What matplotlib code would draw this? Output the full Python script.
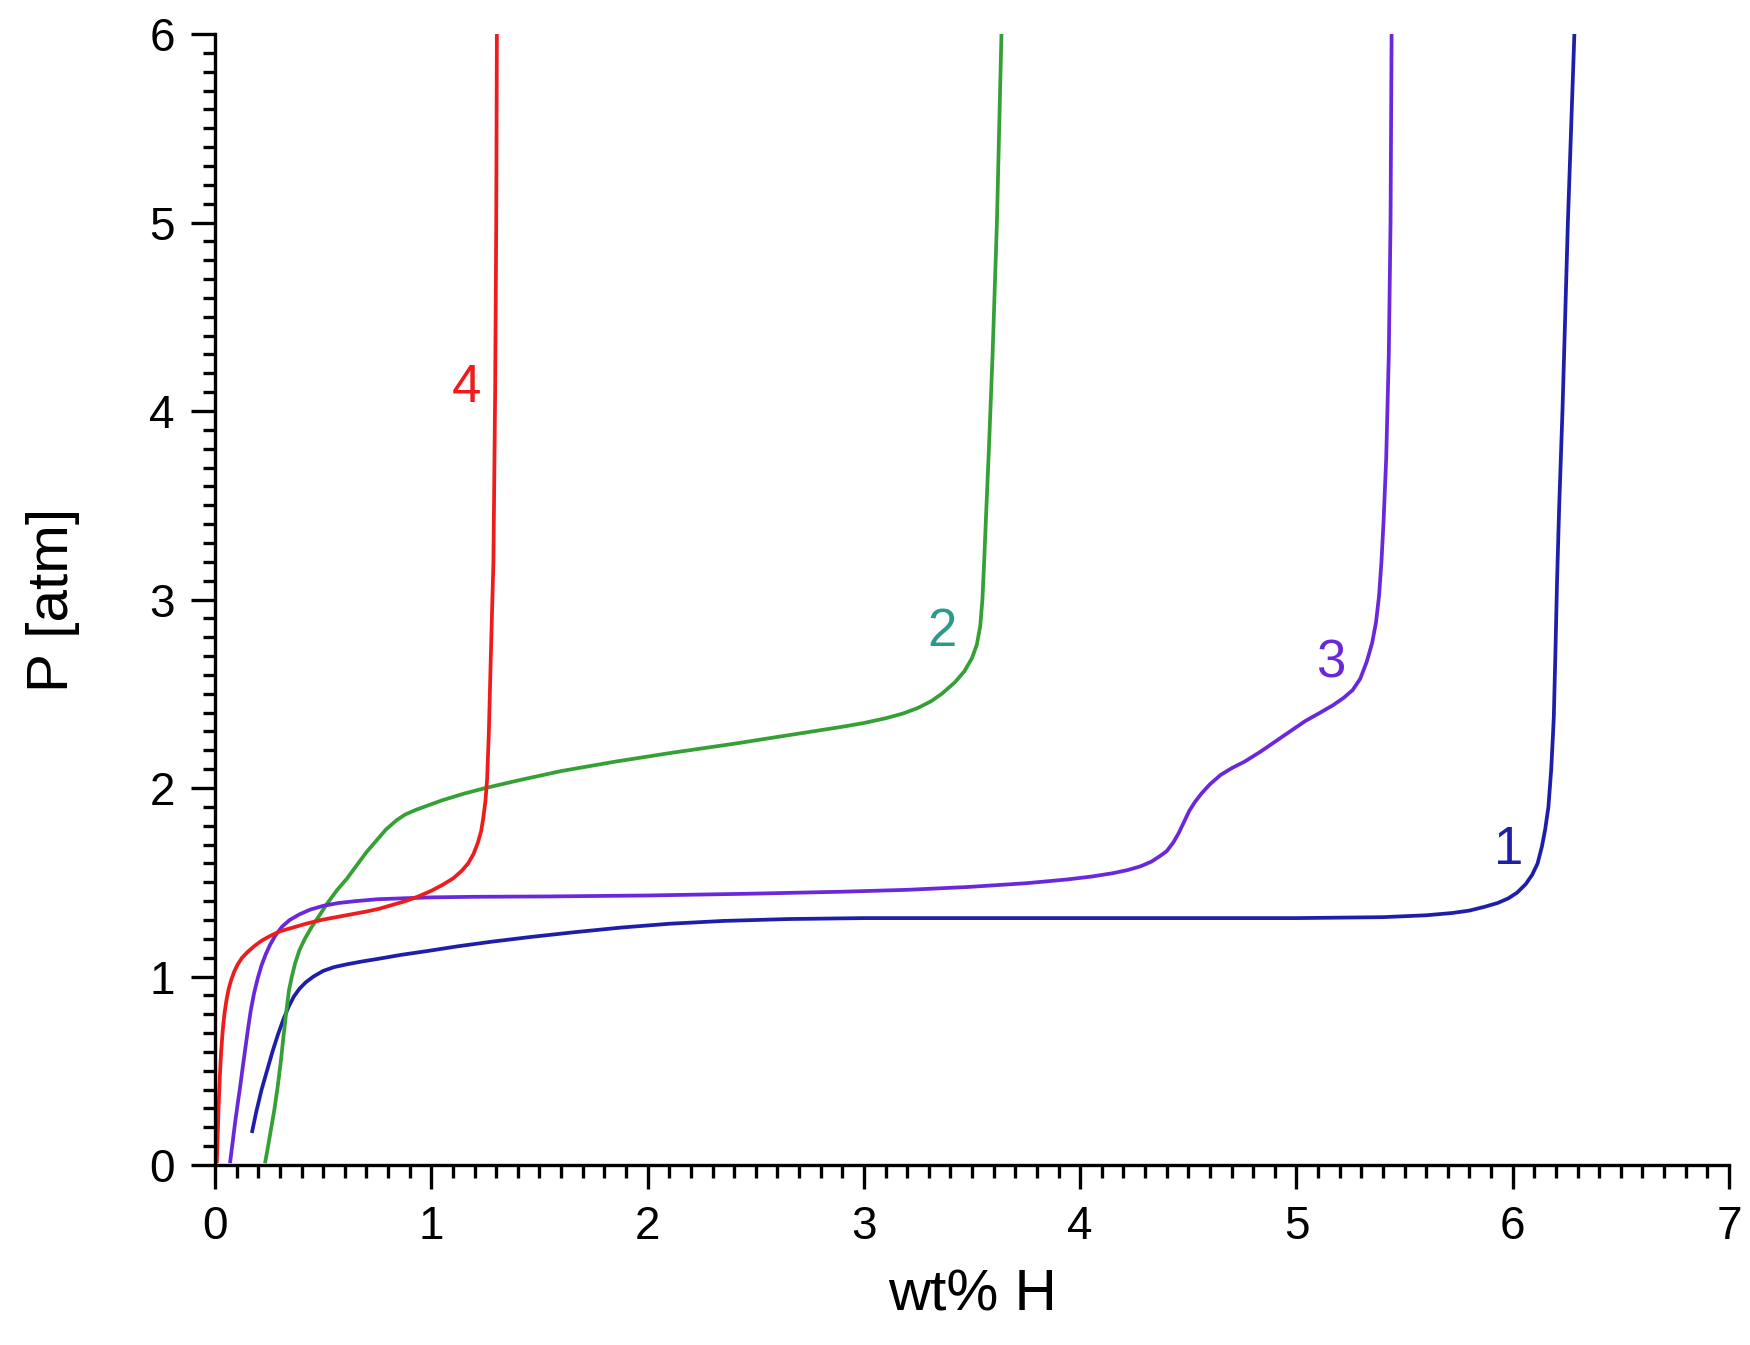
import matplotlib
matplotlib.use("Agg")
import matplotlib.pyplot as plt
from matplotlib.ticker import MultipleLocator

plt.rcParams['font.family'] = ['Liberation Sans', 'DejaVu Sans']

# Curve 1 (blue)
x1 = [0.17, 0.19, 0.215, 0.24, 0.265, 0.29, 0.315, 0.34, 0.365, 0.39, 0.42, 0.455, 0.50, 0.55,
      0.61, 0.68, 0.76, 0.86, 0.98, 1.12, 1.28, 1.46, 1.66, 1.88, 2.10, 2.35, 2.65, 3.0, 3.5,
      4.3, 5.0, 5.4, 5.6, 5.72, 5.80, 5.87, 5.93, 5.98, 6.02, 6.06, 6.09, 6.115, 6.135, 6.15,
      6.165, 6.178, 6.186, 6.19, 6.197, 6.205, 6.215, 6.23, 6.255, 6.285]
y1 = [0.17, 0.28, 0.40, 0.50, 0.60, 0.69, 0.77, 0.84, 0.895, 0.935, 0.97, 1.00, 1.03, 1.05,
      1.065, 1.08, 1.095, 1.115, 1.135, 1.16, 1.185, 1.21, 1.235, 1.26, 1.28, 1.295, 1.305, 1.31,
      1.31, 1.31, 1.31, 1.315, 1.325, 1.337, 1.35, 1.37, 1.39, 1.415, 1.445, 1.49, 1.54, 1.60,
      1.69, 1.78, 1.90, 2.10, 2.28, 2.38, 2.7, 3.1, 3.5, 4.0, 5.0, 6.0]

# Curve 2 (green)
x2 = [0.231, 0.245, 0.26, 0.275, 0.29, 0.305, 0.318, 0.33, 0.342, 0.355, 0.37, 0.39, 0.415,
      0.445, 0.48, 0.52, 0.565, 0.61, 0.655, 0.70, 0.745, 0.79, 0.84, 0.88, 0.93, 0.99, 1.05,
      1.15, 1.25, 1.40, 1.60, 1.85, 2.10, 2.40, 2.65, 2.90, 3.00, 3.10, 3.18, 3.25, 3.31, 3.36,
      3.42, 3.465, 3.50, 3.522, 3.538, 3.548, 3.556, 3.565, 3.578, 3.595, 3.615, 3.636]
y2 = [0.01, 0.10, 0.20, 0.30, 0.42, 0.56, 0.70, 0.82, 0.93, 1.0, 1.07, 1.14, 1.20,
      1.26, 1.32, 1.39, 1.46, 1.52, 1.59, 1.66, 1.72, 1.78, 1.83, 1.86, 1.885, 1.91, 1.935,
      1.97, 2.0, 2.04, 2.09, 2.14, 2.185, 2.235, 2.28, 2.325, 2.345, 2.37, 2.395, 2.425, 2.46,
      2.50, 2.56, 2.62, 2.69, 2.76, 2.86, 3.0, 3.2, 3.45, 3.8, 4.3, 5.0, 6.0]

# Curve 3 (purple)
x3 = [0.069, 0.08, 0.092, 0.104, 0.116, 0.128, 0.14, 0.152, 0.165, 0.18, 0.197, 0.215, 0.235,
      0.255, 0.28, 0.31, 0.345, 0.39, 0.44, 0.50, 0.57, 0.65, 0.75, 0.87, 1.0, 1.2, 1.55, 2.0,
      2.5, 2.9, 3.2, 3.48, 3.75, 3.94, 4.05, 4.15, 4.22, 4.28, 4.33, 4.37, 4.40, 4.43, 4.455,
      4.48, 4.505, 4.53, 4.56, 4.60, 4.65, 4.70, 4.76, 4.83, 4.90, 4.97, 5.04, 5.11, 5.17, 5.22,
      5.26, 5.295, 5.325, 5.35, 5.368, 5.382, 5.393, 5.403, 5.415, 5.427, 5.435, 5.44]
y3 = [0.01, 0.11, 0.22, 0.32, 0.416, 0.52, 0.62, 0.72, 0.82, 0.91, 0.99, 1.06, 1.12,
      1.17, 1.22, 1.265, 1.30, 1.33, 1.355, 1.375, 1.39, 1.40, 1.41, 1.415, 1.42, 1.423, 1.425,
      1.43, 1.44, 1.45, 1.46, 1.475, 1.495, 1.515, 1.53, 1.548, 1.565, 1.585, 1.61, 1.64, 1.665,
      1.71, 1.76, 1.82, 1.88, 1.925, 1.97, 2.02, 2.07, 2.105, 2.14, 2.19, 2.245, 2.30, 2.355,
      2.40, 2.44, 2.48, 2.52, 2.58, 2.67, 2.77, 2.88, 3.02, 3.2, 3.42, 3.75, 4.3, 5.0, 6.0]

# Curve 4 (red)
x4 = [0.008, 0.012, 0.016, 0.022, 0.028, 0.035, 0.043, 0.052, 0.062, 0.074, 0.088, 0.105,
      0.125, 0.15, 0.18, 0.215, 0.254, 0.30, 0.36, 0.42, 0.49, 0.56, 0.63, 0.70, 0.76, 0.82,
      0.88, 0.94, 1.00, 1.05, 1.10, 1.14, 1.17, 1.195, 1.215, 1.23, 1.24, 1.25, 1.258, 1.266,
      1.275, 1.287, 1.295, 1.30, 1.303]
y4 = [0.01, 0.15, 0.30, 0.47, 0.60, 0.71, 0.80, 0.87, 0.93, 0.98, 1.025, 1.065,
      1.10, 1.13, 1.16, 1.19, 1.215, 1.24, 1.26, 1.28, 1.30, 1.315, 1.33, 1.345, 1.36, 1.38,
      1.40, 1.425, 1.455, 1.485, 1.52, 1.56, 1.60, 1.65, 1.71, 1.77, 1.84, 1.93, 2.05, 2.3,
      2.7, 3.2, 4.1, 5.0, 6.0]

curve_labels = ["1", "2", "3", "4"]
label_x = [5.98, 3.36, 5.16, 1.163]
label_y = [1.67, 2.83, 2.66, 4.12]

line_colors = ["#1e1eaa", "#35a035", "#6a28dc", "#ee1c1c"]
label_colors = ["#1e1eaa", "#2a9a8a", "#6a28dc", "#ee1c1c"]

fig = plt.figure(figsize=(17.5, 13.45), dpi=100)
ax = fig.add_axes([0.1229, 0.1338, 0.8651, 0.8409])

for xs, ys, c in zip([x1, x2, x3, x4], [y1, y2, y3, y4], line_colors):
    ax.plot(xs, ys, color=c, lw=2.7, solid_capstyle='butt', solid_joinstyle='round')

for t, lx, ly, c in zip(curve_labels, label_x, label_y, label_colors):
    ax.text(lx, ly, t, color=c, fontsize=38, ha='center', va='center')

ax.set_xlim(0, 7)
ax.set_ylim(0, 6)
ax.xaxis.set_major_locator(MultipleLocator(1))
ax.xaxis.set_minor_locator(MultipleLocator(0.1))
ax.yaxis.set_major_locator(MultipleLocator(1))
ax.yaxis.set_minor_locator(MultipleLocator(0.1))

for s in ['top', 'right']:
    ax.spines[s].set_visible(False)
for s in ['left', 'bottom']:
    ax.spines[s].set_linewidth(2.4)

ax.tick_params(which='major', direction='out', length=17, width=2.4, labelsize=33, pad=12)
ax.tick_params(which='minor', direction='out', length=9, width=2.4)

ax.set_xlabel("wt% H", fontsize=42, labelpad=14)
ax.set_ylabel("P [atm]", fontsize=42, labelpad=50)

fig.savefig("out.png", dpi=100)
